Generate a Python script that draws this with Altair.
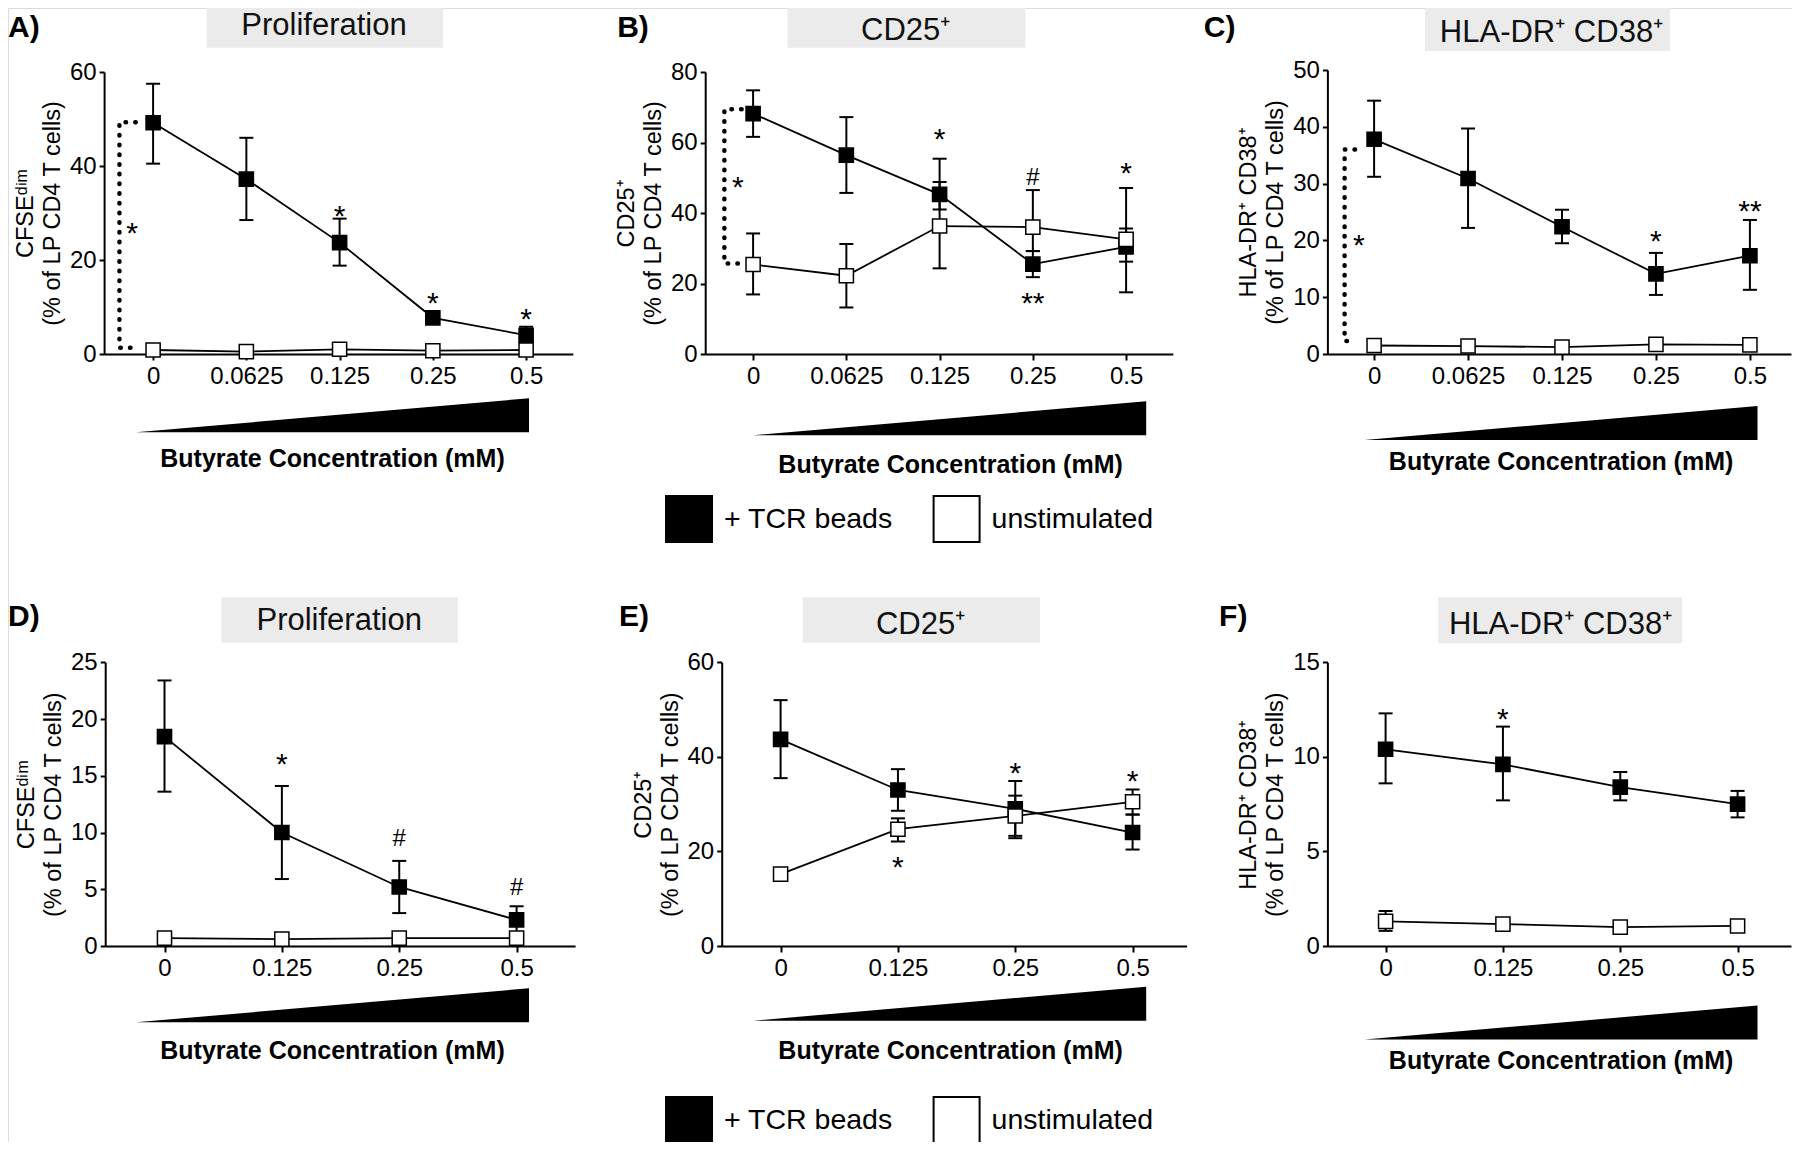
import altair as alt
import pandas as pd

FONT = "Liberation Sans"
CW, CH = 1784, 1134          # whole drawing area (page origin at 8,8)

# ------------------------------------------------------------------ data
series_names = ["+ TCR beads", "unstimulated"]
conc_top = ["0", "0.0625", "0.125", "0.25", "0.5"]
conc_bottom = ["0", "0.125", "0.25", "0.5"]

# A) Proliferation (CFSE dim)
A_tcr = [49.2, 37.2, 23.7, 7.7, 4.0]
A_tcr_lo = [40.5, 28.5, 18.8, 6.9, 2.4]
A_tcr_hi = [57.5, 46.0, 28.8, 8.5, 5.8]
A_uns = [0.85, 0.5, 1.0, 0.7, 0.85]
A_uns_lo = [0.5, 0.2, 0.6, 0.4, 0.5]
A_uns_hi = [1.2, 0.8, 1.4, 1.0, 1.2]
A_ann_idx = [2, 3, 4]
A_ann_val = [30.9, 12.5, 9.0]
A_ann_txt = ["*", "*", "*"]
A_bracket = [49.3, 1.35]
A_bracket_star = [-0.226, 27.2]

# B) CD25+
B_tcr = [68.2, 56.4, 45.3, 25.5, 30.4]
B_tcr_lo = [61.6, 45.7, 41.0, 21.8, 26.2]
B_tcr_hi = [74.8, 67.2, 55.4, 29.2, 35.6]
B_uns = [25.4, 22.2, 36.3, 36.0, 32.5]
B_uns_lo = [16.9, 13.2, 24.3, 29.2, 17.5]
B_uns_hi = [34.2, 31.2, 48.8, 46.5, 47.1]
B_ann_idx = [2, 3, 4, 3]
B_ann_val = [63.0, 50.1, 53.4, 16.5]
B_ann_txt = ["*", "#", "*", "**"]
B_bracket = [69.4, 25.7]
B_bracket_star = [-0.164, 49.4]

# C) HLA-DR+ CD38+
C_tcr = [37.8, 30.9, 22.4, 14.1, 17.3]
C_tcr_lo = [31.2, 22.2, 19.5, 10.4, 11.3]
C_tcr_hi = [44.6, 39.7, 25.4, 17.8, 23.6]
C_uns = [1.5, 1.4, 1.2, 1.7, 1.6]
C_uns_lo = [1.2, 1.1, 0.9, 1.4, 1.3]
C_uns_hi = [1.8, 1.7, 1.5, 2.0, 1.9]
C_ann_idx = [3, 4]
C_ann_val = [21.1, 26.5]
C_ann_txt = ["*", "**"]
C_bracket = [36.0, 2.3]
C_bracket_star = [-0.163, 20.4]

# D) Proliferation
D_tcr = [18.45, 10.0, 5.2, 2.3]
D_tcr_lo = [13.6, 5.9, 2.9, 1.2]
D_tcr_hi = [23.4, 14.1, 7.5, 3.5]
D_uns = [0.7, 0.6, 0.7, 0.7]
D_uns_lo = [0.5, 0.4, 0.5, 0.5]
D_uns_hi = [0.9, 0.8, 0.9, 0.9]
D_ann_idx = [1, 2, 3]
D_ann_val = [16.7, 9.5, 5.2]
D_ann_txt = ["*", "#", "#"]

# E) CD25+
E_tcr = [43.7, 33.0, 29.0, 24.0]
E_tcr_lo = [35.5, 28.6, 22.8, 20.4]
E_tcr_hi = [52.0, 37.4, 34.9, 27.8]
E_uns = [15.2, 24.7, 27.5, 30.5]
E_uns_lo = [14.0, 22.1, 23.3, 27.8]
E_uns_hi = [16.3, 27.0, 31.8, 33.1]
E_ann_idx = [1, 2, 3]
E_ann_val = [18.3, 38.1, 36.5]
E_ann_txt = ["*", "*", "*"]

# F) HLA-DR+ CD38+
F_tcr = [10.4, 9.6, 8.4, 7.5]
F_tcr_lo = [8.6, 7.7, 7.7, 6.8]
F_tcr_hi = [12.3, 11.6, 9.2, 8.2]
F_uns = [1.3, 1.16, 1.0, 1.06]
F_uns_lo = [0.8, 0.9, 0.9, 0.8]
F_uns_hi = [1.85, 1.45, 1.1, 1.3]
F_ann_idx = [1]
F_ann_val = [12.4]
F_ann_txt = ["*"]

pct = "(% of LP CD4 T cells)"
panels = [
    dict(key="A)", conc=conc_top, tcr=A_tcr, tcr_lo=A_tcr_lo, tcr_hi=A_tcr_hi,
         uns=A_uns, uns_lo=A_uns_lo, uns_hi=A_uns_hi,
         ann=(A_ann_idx, A_ann_val, A_ann_txt), bracket=A_bracket, bstar=A_bracket_star,
         ymax=60, yticks=[0, 20, 40, 60], ytitle=["CFSEᵈⁱᵐ", pct], box="Proliferation"),
    dict(key="B)", conc=conc_top, tcr=B_tcr, tcr_lo=B_tcr_lo, tcr_hi=B_tcr_hi,
         uns=B_uns, uns_lo=B_uns_lo, uns_hi=B_uns_hi,
         ann=(B_ann_idx, B_ann_val, B_ann_txt), bracket=B_bracket, bstar=B_bracket_star,
         ymax=80, yticks=[0, 20, 40, 60, 80], ytitle=["CD25⁺", pct], box="CD25⁺"),
    dict(key="C)", conc=conc_top, tcr=C_tcr, tcr_lo=C_tcr_lo, tcr_hi=C_tcr_hi,
         uns=C_uns, uns_lo=C_uns_lo, uns_hi=C_uns_hi,
         ann=(C_ann_idx, C_ann_val, C_ann_txt), bracket=C_bracket, bstar=C_bracket_star,
         ymax=50, yticks=[0, 10, 20, 30, 40, 50], ytitle=["HLA-DR⁺ CD38⁺", pct], box="HLA-DR⁺ CD38⁺"),
    dict(key="D)", conc=conc_bottom, tcr=D_tcr, tcr_lo=D_tcr_lo, tcr_hi=D_tcr_hi,
         uns=D_uns, uns_lo=D_uns_lo, uns_hi=D_uns_hi,
         ann=(D_ann_idx, D_ann_val, D_ann_txt), bracket=None, bstar=None,
         ymax=25, yticks=[0, 5, 10, 15, 20, 25], ytitle=["CFSEᵈⁱᵐ", pct], box="Proliferation"),
    dict(key="E)", conc=conc_bottom, tcr=E_tcr, tcr_lo=E_tcr_lo, tcr_hi=E_tcr_hi,
         uns=E_uns, uns_lo=E_uns_lo, uns_hi=E_uns_hi,
         ann=(E_ann_idx, E_ann_val, E_ann_txt), bracket=None, bstar=None,
         ymax=60, yticks=[0, 20, 40, 60], ytitle=["CD25⁺", pct], box="CD25⁺"),
    dict(key="F)", conc=conc_bottom, tcr=F_tcr, tcr_lo=F_tcr_lo, tcr_hi=F_tcr_hi,
         uns=F_uns, uns_lo=F_uns_lo, uns_hi=F_uns_hi,
         ann=(F_ann_idx, F_ann_val, F_ann_txt), bracket=None, bstar=None,
         ymax=15, yticks=[0, 5, 10, 15], ytitle=["HLA-DR⁺ CD38⁺", pct], box="HLA-DR⁺ CD38⁺"),
]

# ------------------------------------------------------------------ layout (page pixels)
layout = {
    "A)": dict(xl=104.1, x0=153.1, step=93.25, xr=572.8, yt=72, yb=354,
               box=(206.6, 443.1, 1.7, 47.7), boxtext=(324, 35), label=(8, 37),
               tri=(332.5, 415.3), xtitle=(332, 458.3), bx=(-0.361, -0.186)),
    "B)": dict(xl=705.2, x0=753.1, step=93.25, xr=1172.8, yt=72, yb=354,
               box=(787.5, 1025.5, 1.7, 47.7), boxtext=(905.7, 39.5), label=(617.2, 37),
               tri=(949.7, 418.3), xtitle=(950.1, 464.3), bx=(-0.308, -0.123)),
    "C)": dict(xl=1327.4, x0=1374.1, step=93.95, xr=1791, yt=70, yb=354,
               box=(1425, 1669.9, 6, 51), boxtext=(1551.5, 42), label=(1203.8, 37),
               tri=(1561, 423), xtitle=(1560.6, 461), bx=(-0.314, -0.203)),
    "D)": dict(xl=105.2, x0=164.5, step=117.37, xr=575.1, yt=662.3, yb=946,
               box=(221.2, 458, 597.3, 642.7), boxtext=(339.2, 630), label=(8, 626),
               tri=(332.5, 1005.3), xtitle=(332, 1050), bx=None),
    "E)": dict(xl=721.7, x0=780.6, step=117.33, xr=1186.6, yt=662.3, yb=946,
               box=(802.8, 1040, 597.3, 642.7), boxtext=(920.5, 634), label=(619.1, 626),
               tri=(949.7, 1003.7), xtitle=(950.1, 1050), bx=None),
    "F)": dict(xl=1327.4, x0=1385.6, step=117.33, xr=1791, yt=662.3, yb=946,
               box=(1438, 1682.1, 597.3, 643.3), boxtext=(1560.6, 634), label=(1219.1, 626),
               tri=(1561, 1022.5), xtitle=(1560.6, 1060), bx=None),
}
legend_pos = {"B)": (657, 487), "E)": (657, 1088)}
OFF = 8  # page margin


def px(v):
    return v - OFF


def make_legend(pos):
    return alt.Legend(orient="none", legendX=pos[0], legendY=pos[1], direction="horizontal",
                      title=None, symbolType="square", symbolSize=2116, symbolStrokeWidth=2,
                      symbolStrokeColor="black", symbolOpacity=1, labelFont=FONT,
                      labelFontSize=28.5, labelColor="black", labelOffset=11,
                      columnPadding=36.6, padding=0, labelLimit=500)


STAR_FS = 30
layers = []
for p in panels:
    L = layout[p["key"]]
    n = len(p["conc"])
    xs = alt.Scale(domain=[(L["xl"] - L["x0"]) / L["step"], (L["xr"] - L["x0"]) / L["step"]],
                   range=[px(L["xl"]), px(L["xr"])], nice=False, zero=False)
    ys = alt.Scale(domain=[0, p["ymax"]], range=[px(L["yb"]), px(L["yt"])], nice=False, zero=False)
    expr = "[" + ",".join("'%s'" % c for c in p["conc"]) + "][datum.value]"
    xaxis = alt.Axis(orient="bottom", offset=px(L["yb"]) - CH, values=list(range(n)),
                     labelExpr=expr, labelFontSize=24, labelFont=FONT, labelColor="black",
                     labelPadding=4, labelFlush=False, labelOverlap=False, tickSize=6,
                     tickWidth=2, tickColor="black", domainColor="black", domainWidth=2,
                     grid=False, title="Butyrate Concentration (mM)", titleFont=FONT,
                     titleFontSize=25, titleFontWeight="bold", titleColor="black",
                     titleX=px(L["xtitle"][0]), titleY=L["xtitle"][1] - L["yb"],
                     titleBaseline="middle", titleAlign="center", titleAngle=0)
    yaxis = alt.Axis(orient="left", offset=-px(L["xl"]), values=p["yticks"], format="d",
                     labelFontSize=24, labelFont=FONT, labelColor="black", labelPadding=3,
                     labelFlush=False, labelOverlap=False, tickSize=5, tickWidth=2,
                     tickColor="black", domainColor="black", domainWidth=2, grid=False,
                     title=p["ytitle"], titleFont=FONT, titleFontSize=23.5,
                     titleFontWeight="normal", titleColor="black", titlePadding=5,
                     titleLineHeight=27)

    rows = []
    for name, m, lo, hi in [(series_names[0], p["tcr"], p["tcr_lo"], p["tcr_hi"]),
                            (series_names[1], p["uns"], p["uns_lo"], p["uns_hi"])]:
        for i in range(n):
            rows.append(dict(idx=i, series=name, mean=m[i], lo=lo[i], hi=hi[i]))
    df = pd.DataFrame(rows)
    base = alt.Chart(df)
    xq = alt.X("idx:Q", scale=xs, axis=None)

    layers.append(base.mark_rule(color="black", strokeWidth=2).encode(
        x=alt.X("idx:Q", scale=xs, axis=xaxis),
        y=alt.Y("lo:Q", scale=ys, axis=yaxis), y2="hi:Q"))
    layers.append(base.transform_fold(["lo", "hi"], as_=["end", "v"]).mark_tick(
        orient="horizontal", size=14, thickness=2, color="black", opacity=1).encode(
        x=xq, y=alt.Y("v:Q", scale=ys, axis=None)))
    layers.append(base.mark_line(color="black", strokeWidth=1.8).encode(
        x=xq, y=alt.Y("mean:Q", scale=ys, axis=None), detail="series:N"))
    leg = make_legend(legend_pos[p["key"]]) if p["key"] in legend_pos else None
    layers.append(base.mark_point(shape="square", filled=True, size=200, stroke="black",
                                  strokeWidth=1.5, opacity=1).encode(
        x=xq, y=alt.Y("mean:Q", scale=ys, axis=None),
        fill=alt.Fill("series:N", scale=alt.Scale(domain=series_names, range=["black", "white"]),
                      legend=leg)))

    ai, av, at = p["ann"]
    adf = pd.DataFrame(dict(idx=ai, val=av, txt=at))
    stars = adf[~adf["txt"].str.contains("#")]
    hashes = adf[adf["txt"].str.contains("#")]
    if len(stars):
        layers.append(alt.Chart(stars).mark_text(font=FONT, fontSize=STAR_FS, baseline="middle",
                                                 align="center", dy=0.275 * STAR_FS,
                                                 color="black").encode(
            x=alt.X("idx:Q", scale=xs, axis=None), y=alt.Y("val:Q", scale=ys, axis=None),
            text="txt:N"))
    if len(hashes):
        layers.append(alt.Chart(hashes).mark_text(font=FONT, fontSize=24, baseline="middle",
                                                  align="center", dy=1, color="black").encode(
            x=alt.X("idx:Q", scale=xs, axis=None), y=alt.Y("val:Q", scale=ys, axis=None),
            text="txt:N"))

    if p["bracket"] is not None:
        vx, ex = L["bx"]
        top, bot = p["bracket"]
        bdf = pd.DataFrame(dict(bx=[ex, vx, vx, ex], by=[top, top, bot, bot], ord=[0, 1, 2, 3]))
        layers.append(alt.Chart(bdf).mark_line(color="black", strokeWidth=4.5, strokeCap="round",
                                               strokeDash=[0.5, 9.2]).encode(
            x=alt.X("bx:Q", scale=xs, axis=None), y=alt.Y("by:Q", scale=ys, axis=None),
            order="ord:Q"))
        sdf = pd.DataFrame(dict(sx=[p["bstar"][0]], sy=[p["bstar"][1]], txt=["*"]))
        layers.append(alt.Chart(sdf).mark_text(font=FONT, fontSize=STAR_FS, baseline="middle",
                                               align="center", dy=0.275 * STAR_FS,
                                               color="black").encode(
            x=alt.X("sx:Q", scale=xs, axis=None), y=alt.Y("sy:Q", scale=ys, axis=None),
            text="txt:N"))

# ------------------------------------------------------------------ decorations
deco = pd.DataFrame([dict(
    label=p["key"], box=p["box"],
    bx1=px(layout[p["key"]]["box"][0]), bx2=px(layout[p["key"]]["box"][1]),
    by1=px(layout[p["key"]]["box"][2]), by2=px(layout[p["key"]]["box"][3]),
    tx=px(layout[p["key"]]["boxtext"][0]), ty=px(layout[p["key"]]["boxtext"][1]),
    lx=px(layout[p["key"]]["label"][0]), ly=px(layout[p["key"]]["label"][1]),
    cx=px(layout[p["key"]]["tri"][0]), cy=px(layout[p["key"]]["tri"][1]),
) for p in panels])
dchart = alt.Chart(deco)

layers.append(dchart.mark_rect(fill="#ebebeb").encode(
    x=alt.X("bx1:Q", scale=None, axis=None), x2="bx2:Q",
    y=alt.Y("by1:Q", scale=None, axis=None), y2="by2:Q"))
layers.append(dchart.mark_text(font=FONT, fontSize=31, align="center", baseline="alphabetic",
                               color="#111111").encode(
    x=alt.X("tx:Q", scale=None, axis=None), y=alt.Y("ty:Q", scale=None, axis=None),
    text="box:N"))
layers.append(dchart.mark_text(font=FONT, fontSize=30, fontWeight="bold", align="left",
                               baseline="alphabetic", color="black").encode(
    x=alt.X("lx:Q", scale=None, axis=None), y=alt.Y("ly:Q", scale=None, axis=None),
    text="label:N"))
TRI_W, TRI_H = 393.0, 34.0
tri_path = "M-1,{h:.4f}L1,{m:.4f}L1,{h:.4f}Z".format(h=TRI_H / TRI_W, m=-TRI_H / TRI_W)
layers.append(dchart.mark_point(shape=tri_path, size=TRI_W ** 2, filled=True, color="black",
                                opacity=1, strokeWidth=0).encode(
    x=alt.X("cx:Q", scale=None, axis=None), y=alt.Y("cy:Q", scale=None, axis=None)))

chart = alt.layer(*layers).resolve_scale(
    x="independent", y="independent", fill="independent"
).properties(
    width=CW, height=CH, autosize=alt.AutoSizeParams(type="none"), padding=0
).configure_view(stroke=None).configure(background="white")

chart.save("out.html", embed_options={"renderer": "svg", "actions": False})
